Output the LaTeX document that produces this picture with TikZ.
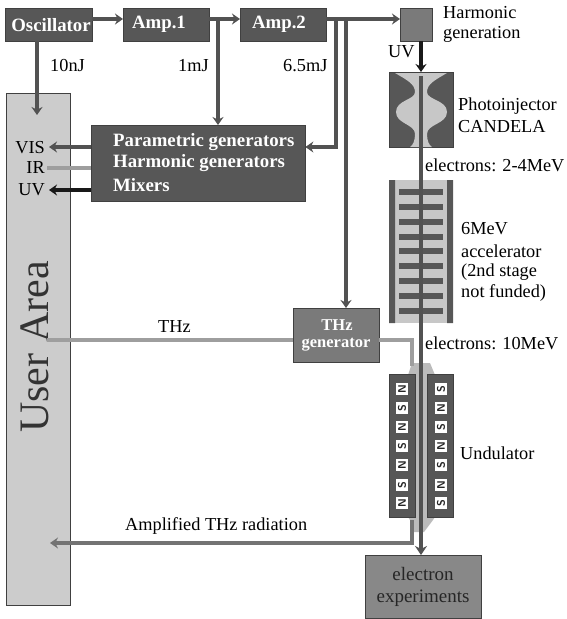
\documentclass[tikz,border=0pt]{standalone}
\usepackage{fontspec}
\setmainfont{Liberation Serif}
\usetikzlibrary{arrows.meta,calc}
\definecolor{darkbox}{gray}{0.34}
\definecolor{midbox}{gray}{0.48}
\definecolor{lightbox}{gray}{0.8}
\definecolor{wire}{gray}{0.32}
\definecolor{thzwire}{gray}{0.62}
\definecolor{ampwire}{gray}{0.45}
\definecolor{cavity}{gray}{0.78}
\newcommand{\fsz}[1]{\fontsize{#1}{#1}\selectfont}
\tikzset{
  box/.style={draw=black!75,line width=.4pt,minimum width=0pt,minimum height=0pt,inner sep=0pt,anchor=north west},
  darkblock/.style={box,fill=darkbox,text=white,font=\fsz{18.8}\bfseries},
  label/.style={anchor=west,inner sep=0pt,font=\fsz{18.3},text=black},
  boxtext/.style={text=white,font=\fsz{18.8}\bfseries,inner sep=0pt},
  wirearrow/.style={draw=wire,line width=3.8pt,-{Stealth[length=8pt,width=11pt]}},
  blackarrow/.style={draw=black!90,line width=3.8pt,-{Stealth[length=8pt,width=11pt]}},
  thzline/.style={draw=thzwire,line width=3.8pt},
  magnet/.style={draw=none,fill=white,minimum width=12pt,minimum height=12pt,inner sep=0pt,font=\fsz{11}\bfseries\sffamily,text=black!85}
}
\begin{document}
\begin{tikzpicture}[x=1pt,y=-1pt]
\useasboundingbox (0,0) rectangle (566,619);
% user area
\node[box,fill=lightbox,minimum width=64pt,minimum height=512pt] (user) at (6,93) {};
\node[rotate=90,font=\fsz{42},text=black!80,inner sep=0pt] (userlabel) at (35,347) {User Area};
% top boxes
\node[darkblock,minimum width=87pt,minimum height=33pt] (osc) at (5,8) {};
\node[boxtext] (osctext) at (51,25) {Oscillator};
\node[darkblock,minimum width=86pt,minimum height=33pt] (amp1) at (123,8) {};
\node[boxtext] (amp1text) at (159,24) {Amp.1};
\node[darkblock,minimum width=86pt,minimum height=33pt] (amp2) at (240,8) {};
\node[boxtext] (amp2text) at (279,24) {Amp.2};
\node[box,fill=midbox,minimum width=32pt,minimum height=33pt] (harm) at (400,8) {};
% generators
\node[darkblock,minimum width=214pt,minimum height=76pt] (para) at (91,125) {};
\node[boxtext,anchor=west] (p1) at (113,142) {Parametric generators};
\node[boxtext,anchor=west] (p2) at (113,163) {Harmonic generators};
\node[boxtext,anchor=west] (p3) at (113,185) {Mixers};
% THz generator
\node[box,fill=midbox,minimum width=86pt,minimum height=54pt] (thz) at (293,308) {};
\node[boxtext,font=\fsz{16.5}\bfseries] (thz1) at (337,325) {THz};
\node[boxtext,font=\fsz{16.5}\bfseries] (thz2) at (336,345) {generator};
% photoinjector
\node[box,fill=darkbox,minimum width=64pt,minimum height=75pt] (photo) at (389,72) {};
\fill[cavity] (395,73) -- (447,73) .. controls (435,80) and (427,84) .. (427,92)
  .. controls (427,100) and (447,100) .. (447,112)
  .. controls (447,124) and (427,124) .. (427,134)
  .. controls (427,141) and (429,145) .. (432,147) -- (410,147)
  .. controls (413,145) and (415,141) .. (415,134)
  .. controls (415,124) and (396,124) .. (396,112)
  .. controls (396,100) and (415,100) .. (415,92)
  .. controls (415,84) and (407,80) .. (395,73) -- cycle;
% accelerator
\node[box,draw=none,fill=cavity,minimum width=64pt,minimum height=143pt] (accel) at (389,180) {};
\fill[darkbox] (389,180) rectangle (395,323) (447,180) rectangle (453,323);
\foreach \yy in {192,207,222,237,251,266,281,296,311}{
  \fill[darkbox] (399,\yy-3) rectangle (443,\yy+3);
}
% undulator flares
\fill[thzwire!70] (412,363) -- (430,363) -- (435,375) -- (435,517) -- (433,520) -- (424,532) -- (412,532) -- (410,520) -- (408,517) -- (408,375) -- cycle;
% magnets
\node[box,fill=darkbox,minimum width=26pt,minimum height=143pt] (magl) at (389,374) {};
\node[box,fill=darkbox,minimum width=26pt,minimum height=143pt] (magr) at (427,374) {};
\foreach \yy/\a/\b in {389/N/S,408/S/N,427/N/S,446/S/N,465/N/S,485/S/N,503/N/S}{
  \node[magnet,rotate=90] at (402,\yy) {\a};
  \node[magnet,rotate=90] at (441,\yy) {\b};
}
% experiments
\node[box,fill=midbox!90!white,minimum width=116pt,minimum height=63pt] (exper) at (365,555) {};
\node[align=center,font=\fsz{19},text=black!85,inner sep=0pt] (extext) at (423,587) {electron\\[3pt]experiments};
% named junctions
\coordinate (b1) at (218,19);
\coordinate (b2) at (336,19);
\coordinate (b3) at (346,19);
\coordinate (beamtop) at (421,76);
\coordinate (useratvis) at (49,147);
\coordinate (useratir) at (47,168);
\coordinate (useratuv) at (49,190);
\coordinate (userthz) at (47,340);
\coordinate (userampl) at (50,543);
\coordinate (thzdown) at (412,366);
\coordinate (ampstart) at (412,520);
% connectors
\draw[wirearrow] (osc.east |- 0,19) -- (amp1.west |- 0,19);
\draw[wirearrow] (amp1.east |- 0,19) -- (amp2.west |- 0,19);
\draw[wirearrow] (amp2.east |- 0,19) -- (harm.west |- 0,19);
\draw[wirearrow] (37,41) -- (37,115);
\draw[wirearrow] (b1) -- (b1 |- para.north);
\draw[wirearrow] (b2) -- (b2 |- 0,147) -- (para.east |- 0,147);
\draw[wirearrow] (b3) -- (b3 |- thz.north);
\draw[blackarrow] (harm.south -| beamtop) -- (beamtop |- photo.north);
% outputs
\draw[wirearrow] (para.west |- useratvis) -- (useratvis);
\draw[thzline] (para.west |- useratir) -- (useratir);
\draw[blackarrow] (para.west |- useratuv) -- (useratuv);
% THz paths
\draw[thzline] (thz.west |- userthz) -- (userthz);
\draw[thzline] (thz.east |- userthz) -- (thzdown |- userthz) -- (thzdown);
\draw[draw=ampwire,line width=3.8pt,-{Stealth[length=8pt,width=11pt]}] (ampstart) -- (ampstart |- userampl) -- (userampl);
% beam
\draw[draw=wire,line width=3.8pt,-{Stealth[length=9pt,width=12pt]}] (beamtop) -- (beamtop |- exper.north);
% labels
\node[label] (l1) at (443,13) {Harmonic};
\node[label] (l2) at (443,34) {generation};
\node[label] (l3) at (388,52) {UV};
\node[label] (l4) at (458,106) {Photoinjector};
\node[label] (l5) at (458,127) {CANDELA};
\node[label] (l6) at (425,165) {electrons: 2-4MeV};
\node[label] (l7) at (461,229) {6MeV};
\node[label] (l8) at (461,251) {accelerator};
\node[label] (l9) at (461,272) {(2nd stage};
\node[label] (l10) at (461,293) {not funded)};
\node[label] (l11) at (425,343) {electrons: 10MeV};
\node[label] (l12) at (460,453) {Undulator};
\node[label] (l13) at (50,66) {10nJ};
\node[label] (l14) at (178,66) {1mJ};
\node[label] (l15) at (283,66) {6.5mJ};
\node[label] (l16) at (158,327) {THz};
\node[label] (l17) at (125,526) {Amplified THz radiation};
\node[label,anchor=east] (l18) at (45,148) {VIS};
\node[label,anchor=east] (l19) at (45,168) {IR};
\node[label,anchor=east] (l20) at (45,190) {UV};
\end{tikzpicture}
\end{document}
